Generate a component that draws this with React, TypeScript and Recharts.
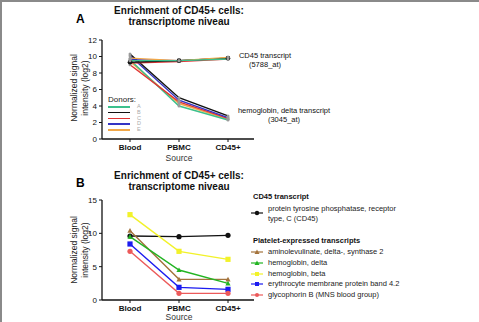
import React from "react";
import { LineChart, Line, XAxis, YAxis } from "recharts";

const sources = ["Blood", "PBMC", "CD45+"];

// panel A, per donor: CD45 transcript and hemoglobin delta transcript
const donors = ["A", "B", "C", "D", "E"];
const donorColors = ["#3cc08c", "#111111", "#e03333", "#3434c4", "#f2a848"];
const cd45A = [9.5, 9.5, 9.7];
const cd45B = [9.3, 9.5, 9.8];
const cd45C = [9.2, 9.4, 9.7];
const cd45D = [9.6, 9.5, 9.8];
const cd45E = [9.8, 9.5, 9.9];
const hbdA = [9.6, 4.0, 2.3];
const hbdB = [10.3, 5.0, 2.8];
const hbdC = [9.0, 4.5, 2.5];
const hbdD = [10.1, 4.7, 2.6];
const hbdE = [9.4, 4.3, 2.4];
const ticksA = [0, 2, 4, 6, 8, 10, 12];

// panel B, one series per transcript
const ptprc = [9.6, 9.5, 9.7];
const alas2 = [10.4, 3.1, 3.1];
const hbd = [9.5, 4.5, 2.5];
const hbb = [12.8, 7.3, 6.1];
const epb42 = [8.4, 1.9, 1.6];
const gypb = [7.3, 1.0, 1.0];
const ticksB = [0, 5, 10, 15];

const cd45Sets = [cd45A, cd45B, cd45C, cd45D, cd45E];
const hbdSets = [hbdA, hbdB, hbdC, hbdD, hbdE];

const dataA = sources.map((s, i) => {
  const row: Record<string, any> = { source: s };
  donors.forEach((d, j) => {
    row["cd45" + d] = cd45Sets[j][i];
    row["hbd" + d] = hbdSets[j][i];
  });
  return row;
});

// draw order: CD45 lines end up green/orange on top, hb lines black on top
const cd45Order = [2, 3, 1, 4, 0];
const hbdOrder = [4, 0, 2, 3, 1];

const seriesB = [
  { key: "ptprc", vals: ptprc, color: "#111111", shape: "circle", name: "protein tyrosine phosphatase, receptor type, C (CD45)" },
  { key: "alas2", vals: alas2, color: "#a4733c", shape: "triangle", name: "aminolevulinate, delta-, synthase 2" },
  { key: "hbd", vals: hbd, color: "#22b422", shape: "triangle", name: "hemoglobin, delta" },
  { key: "hbb", vals: hbb, color: "#f2f22a", shape: "diamond", name: "hemoglobin, beta" },
  { key: "epb42", vals: epb42, color: "#1c1cf0", shape: "square", name: "erythrocyte membrane protein band 4.2" },
  { key: "gypb", vals: gypb, color: "#ec5a5a", shape: "circle", name: "glycophorin B (MNS blood group)" },
];

const dataB = sources.map((s, i) => {
  const row: Record<string, any> = { source: s };
  seriesB.forEach((sr) => (row[sr.key] = sr.vals[i]));
  return row;
});

const FONT = "'Liberation Sans', Arial, sans-serif";

function marker(shape: string, color: string, size = 3) {
  return (props: any) => {
    const { cx, cy, index } = props;
    const k = "m" + index;
    if (shape === "triangle")
      return <polygon key={k} points={`${cx},${cy - size} ${cx - size},${cy + size * 0.8} ${cx + size},${cy + size * 0.8}`} fill={color} />;
    if (shape === "square" || shape === "diamond")
      return <rect key={k} x={cx - size} y={cy - size} width={size * 2} height={size * 2} fill={color} />;
    return <circle key={k} cx={cx} cy={cy} r={size} fill={color} />;
  };
}

const abs = (x: number, y: number, extra: React.CSSProperties = {}): React.CSSProperties => ({
  position: "absolute", left: x, top: y, fontFamily: FONT, whiteSpace: "nowrap", lineHeight: 1, ...extra,
});

function YLabel({ x, y }: { x: number; y: number }) {
  return (
    <div style={abs(x, y, { transform: "translate(-50%, -50%) rotate(-90deg)", fontSize: 8.5, textAlign: "center", lineHeight: "11px", color: "#222" })}>
      Normalized signal<br />intensity (log2)
    </div>
  );
}

function Title({ y }: { y: number }) {
  return (
    <div style={abs(179, y, { transform: "translateX(-50%)", fontSize: 10, fontWeight: 700, textAlign: "center", lineHeight: "11px", color: "#111" })}>
      Enrichment of CD45+ cells:<br />transcriptome niveau
    </div>
  );
}

const xTick = { fontSize: 8, fontWeight: 700, fill: "#111", fontFamily: FONT };
const yTick = { fontSize: 8, fill: "#111", fontFamily: FONT };

export default function App() {
  return (
    <div style={{ position: "absolute", left: 0, top: 0, width: 479, height: 322, background: "#fff", overflow: "hidden" }}>
      <div style={{ position: "absolute", left: 0, top: 0, width: 479, height: 2, background: "#8a8a8a" }} />
      <div style={{ position: "absolute", left: 0, top: 0, width: 2, height: 322, background: "#8a8a8a" }} />

      {/* Panel A */}
      <div style={abs(76, 13, { fontSize: 12, fontWeight: 700 })}>A</div>
      <Title y={5} />
      <YLabel x={80} y={88} />
      <div style={{ position: "absolute", left: 0, top: 0 }}>
        <LineChart width={479} height={160} data={dataA} margin={{ top: 40, right: 225, bottom: 1, left: 82 }}>
          <XAxis dataKey="source" padding={{ left: 28, right: 26 }} tick={xTick} tickLine={{ stroke: "#111" }} tickSize={3} axisLine={{ stroke: "#111", strokeWidth: 1.3 }} height={20} interval={0} />
          <YAxis domain={[0, 12]} ticks={ticksA} tick={yTick} tickLine={{ stroke: "#111" }} tickSize={3} axisLine={{ stroke: "#111", strokeWidth: 1.3 }} width={20} interval={0} />
          {hbdOrder.map((j) => (
            <Line key={"h" + donors[j]} dataKey={"hbd" + donors[j]} stroke={donorColors[j]} strokeWidth={1.4} isAnimationActive={false}
              dot={marker("circle", "#999", 1.5)} />
          ))}
          {cd45Order.map((j) => (
            <Line key={"c" + donors[j]} dataKey={"cd45" + donors[j]} stroke={donorColors[j]} strokeWidth={1.4} isAnimationActive={false}
              dot={marker("circle", j === 1 ? "#111" : "#999", j === 1 ? 2.3 : 1.5)} />
          ))}
        </LineChart>
      </div>
      <div style={abs(108, 96, { fontSize: 8, color: "#222" })}>Donors:</div>
      {donors.map((d, j) => (
        <React.Fragment key={d}>
          <div style={{ position: "absolute", left: 108, top: 106 + j * 5.8, width: 22, height: 1.6, background: donorColors[j] }} />
          <div style={abs(137, 104 + j * 5.8, { fontSize: 5.5, color: "#aaa" })}>{d}</div>
        </React.Fragment>
      ))}
      <div style={abs(265, 51, { transform: "translateX(-50%)", fontSize: 7.5, textAlign: "center", lineHeight: "9px", color: "#111" })}>
        CD45 transcript<br />(5788_at)
      </div>
      <div style={abs(284, 106, { transform: "translateX(-50%)", fontSize: 7.5, textAlign: "center", lineHeight: "9px", color: "#111" })}>
        hemoglobin, delta transcript<br />(3045_at)
      </div>
      <div style={abs(179, 154, { transform: "translateX(-50%)", fontSize: 8.5, color: "#333" })}>Source</div>

      {/* Panel B */}
      <div style={abs(76, 177, { fontSize: 12, fontWeight: 700 })}>B</div>
      <Title y={170} />
      <YLabel x={80} y={250} />
      <div style={{ position: "absolute", left: 0, top: 160 }}>
        <LineChart width={479} height={162} data={dataB} margin={{ top: 40, right: 225, bottom: 2, left: 82 }}>
          <XAxis dataKey="source" padding={{ left: 28, right: 26 }} tick={xTick} tickLine={{ stroke: "#111" }} tickSize={3} axisLine={{ stroke: "#111", strokeWidth: 1.3 }} height={20} interval={0} />
          <YAxis domain={[0, 15]} ticks={ticksB} tick={yTick} tickLine={{ stroke: "#111" }} tickSize={3} axisLine={{ stroke: "#111", strokeWidth: 1.3 }} width={20} interval={0} />
          {seriesB.map((s) => (
            <Line key={s.key} dataKey={s.key} stroke={s.color} strokeWidth={1.4} isAnimationActive={false}
              dot={marker(s.shape, s.color, 2.6)} />
          ))}
        </LineChart>
      </div>
      <div style={abs(179, 313, { transform: "translateX(-50%)", fontSize: 8.5, color: "#333" })}>Source</div>

      <div style={abs(253, 193, { fontSize: 7.5, fontWeight: 700, color: "#111" })}>CD45 transcript</div>
      <svg style={{ position: "absolute", left: 250, top: 207 }} width={14} height={12}>
        <line x1={1} y1={6} x2={13} y2={6} stroke="#111" strokeWidth={1.2} />
        <circle cx={7} cy={6} r={2.2} fill="#111" />
      </svg>
      <div style={abs(268, 204, { fontSize: 7.5, lineHeight: "10px", color: "#222" })}>
        protein tyrosine phosphatase, receptor<br />type, C (CD45)
      </div>
      <div style={abs(253, 237, { fontSize: 7.5, fontWeight: 700, color: "#111" })}>Platelet-expressed transcripts</div>
      {seriesB.slice(1).map((s, i) => (
        <React.Fragment key={s.key}>
          <svg style={{ position: "absolute", left: 250, top: 246 + i * 10.8 }} width={14} height={12}>
            <line x1={1} y1={6} x2={13} y2={6} stroke={s.color} strokeWidth={1.2} />
            {s.shape === "triangle" ? (
              <polygon points="7,3.5 4.5,8 9.5,8" fill={s.color} />
            ) : s.shape === "circle" ? (
              <circle cx={7} cy={6} r={2} fill={s.color} />
            ) : (
              <rect x={5} y={4} width={4} height={4} fill={s.color} />
            )}
          </svg>
          <div style={abs(268, 248 + i * 10.8, { fontSize: 7.5, color: "#222" })}>{s.name}</div>
        </React.Fragment>
      ))}
    </div>
  );
}
